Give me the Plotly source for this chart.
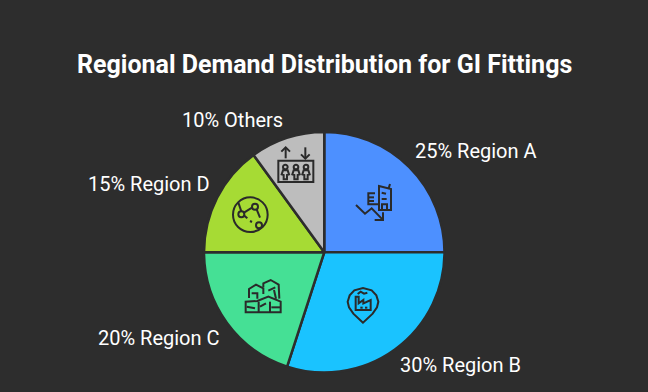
import plotly.graph_objects as go

regions = ["Region A", "Region B", "Region C", "Region D", "Others"]
shares = [25, 30, 20, 15, 10]
colors = ["#4d90ff", "#1ac3ff", "#45e095", "#a6db34", "#bdbdbd"]
title = "Regional Demand Distribution for GI Fittings"
W, H = 648, 392
BG = "#2d2d2d"
INK = "#2a2a2a"

# label anchor centres (decoration layout, pixels)
label_pos = [(476, 151), (460.5, 365), (159, 338), (149, 184), (232.5, 120)]

fig = go.Figure(go.Pie(
    labels=regions, values=shares, sort=False, direction="clockwise", rotation=0,
    marker=dict(colors=colors, line=dict(color=BG, width=2.5)),
    textinfo="none", hoverinfo="label+percent", showlegend=False,
    domain=dict(x=[204 / W, 444.5 / W], y=[1 - 372.5 / H, 1 - 132 / H]),
))

shapes = []

def poly(pts, ox, oy, close=False, w=2):
    d = ""
    for i, (x, y) in enumerate(pts):
        px = (ox + x / 3) / W
        py = 1 - (oy + y / 3) / H
        d += ("M" if i == 0 else "L") + f"{px:.5f},{py:.5f} "
    if close:
        d += "Z"
    shapes.append(dict(type="path", xref="paper", yref="paper", path=d,
                       line=dict(color=INK, width=w), layer="above"))

def circ(cx, cy, r, ox, oy, w=2):
    x, y = ox + cx / 3, oy + cy / 3
    rr = r / 3
    shapes.append(dict(type="circle", xref="paper", yref="paper",
                       x0=(x - rr) / W, x1=(x + rr) / W,
                       y0=1 - (y + rr) / H, y1=1 - (y - rr) / H,
                       line=dict(color=INK, width=w), layer="above"))

# top crop origin
ox, oy = 200, 125
# Others icon: lift
poly([(257, 100), (257, 68)], ox, oy)
poly([(244, 80), (257, 67), (270, 80)], ox, oy)
poly([(316, 67), (316, 100)], ox, oy)
poly([(303, 88), (316, 101), (329, 88)], ox, oy)
poly([(235, 107), (340, 107), (340, 171), (235, 171)], ox, oy, True)
for px_ in (256, 288, 318):
    circ(px_, 126, 7, ox, oy)
    poly([(px_ - 11, 148), (px_ - 7, 136), (px_ + 7, 136), (px_ + 11, 148),
          (px_ + 5, 150), (px_ + 5, 163), (px_ - 5, 163), (px_ - 5, 150)], ox, oy, True)

# Region D icon: globe with nodes
circ(151, 269, 52, ox, oy)
circ(165, 245, 9, ox, oy)
circ(124, 268, 9, ox, oy)
circ(177, 301, 9, ox, oy)
poly([(132, 263), (156, 248)], ox, oy)
poly([(170, 253), (180, 278)], ox, oy)
poly([(115, 233), (124, 259)], ox, oy)
poly([(133, 272), (142, 280)], ox, oy)
poly([(150, 288), (156, 291)], ox, oy)

# Region A icon: buildings and falling arrow
poly([(468, 240), (495, 266), (515, 250), (548, 284)], ox, oy)
poly([(524, 285), (549, 285), (549, 262)], ox, oy)
poly([(537, 183), (573, 192), (573, 255), (537, 255)], ox, oy, True)
poly([(566, 190), (570, 177)], ox, oy)
poly([(545, 203), (558, 206)], ox, oy)
poly([(545, 222), (560, 222)], ox, oy)
poly([(546, 253), (546, 238), (561, 238), (561, 253)], ox, oy)
poly([(525, 205), (505, 205), (505, 238), (537, 238)], ox, oy)
poly([(505, 217), (522, 217)], ox, oy)
poly([(505, 228), (522, 228)], ox, oy)

# bottom crop origin
ox, oy = 200, 250
# Region C icon: houses
poly([(147, 144), (147, 117), (168, 104), (190, 115), (190, 132)], ox, oy)
poly([(190, 112), (190, 100), (212, 90), (236, 104), (238, 146)], ox, oy)
poly([(155, 130), (172, 130), (172, 146)], ox, oy)
poly([(205, 122), (226, 112)], ox, oy)
poly([(222, 120), (228, 146)], ox, oy)
poly([(137, 187), (137, 155), (172, 153), (205, 140), (242, 155), (242, 187)], ox, oy, True)
poly([(176, 155), (176, 187)], ox, oy)
poly([(210, 155), (210, 187)], ox, oy)
poly([(140, 170), (165, 175)], ox, oy)
poly([(180, 170), (198, 160)], ox, oy)
poly([(214, 172), (240, 172)], ox, oy)

# Region B icon: location pin with factory
pin = [(489, 218), (460, 191), (447, 172), (443, 155), (449, 136), (463, 121),
       (489, 114), (515, 121), (529, 136), (535, 155), (531, 172), (518, 191)]
poly(pin, ox, oy, True)
poly([(467, 180), (467, 140), (476, 140), (476, 160), (490, 150), (490, 160),
      (512, 150), (512, 180)], ox, oy, True)
poly([(481, 173), (488, 173)], ox, oy)
poly([(495, 173), (502, 173)], ox, oy)
poly([(473, 132), (482, 125), (492, 131), (502, 128)], ox, oy)

annotations = [
    dict(text=f"{v}% {r}", x=x / W, y=1 - y / H, xref="paper", yref="paper",
         xanchor="center", yanchor="middle", showarrow=False,
         font=dict(family="Roboto", size=20, weight=400, color="#ffffff"))
    for v, r, (x, y) in zip(shares, regions, label_pos)
]
annotations.append(dict(text=title, x=324 / W, y=1 - 64.5 / H, xref="paper", yref="paper",
                        xanchor="center", yanchor="middle", showarrow=False,
                        font=dict(family="Roboto", size=25, weight=700, color="#ffffff")))

fig.update_layout(width=W, height=H, margin=dict(l=0, r=0, t=0, b=0),
                  paper_bgcolor=BG, plot_bgcolor=BG,
                  shapes=shapes, annotations=annotations)
fig.write_html("out.html", config=dict(displayModeBar=False),
               post_script="document.body.style.margin='0';document.body.style.background='#2d2d2d';document.documentElement.style.overflow='hidden';")
